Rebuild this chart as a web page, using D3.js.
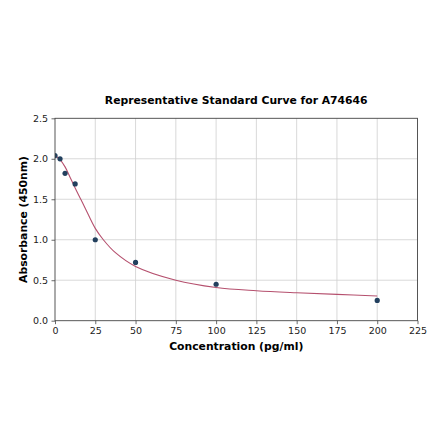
<!DOCTYPE html>
<html><head><meta charset="utf-8">
<script src="https://cdn.jsdelivr.net/npm/d3@7"></script>
<style>body{margin:0;background:#fff;} svg{display:block;font-family:"DejaVu Sans",sans-serif;}</style>
</head><body>
<script>
const title = "Representative Standard Curve for A74646";
const xLabel = "Concentration (pg/ml)";
const yLabel = "Absorbance (450nm)";
const concentrations = [0, 3.125, 6.25, 12.5, 25, 50, 100, 200];
const absorbances = [2.04, 2.00, 1.82, 1.69, 1.00, 0.72, 0.45, 0.25];
const fitX = [0, 3.125, 6.25, 9.4, 12.5, 16, 18.75, 25, 30, 37.5, 50, 75, 100, 125, 150, 175, 200];
const fitY = [2.04, 1.99, 1.90, 1.77, 1.64, 1.50, 1.39, 1.14, 1.00, 0.84, 0.67, 0.50, 0.41, 0.37, 0.345, 0.325, 0.305];
const xTicks = [0, 25, 50, 75, 100, 125, 150, 175, 200, 225];
const yTicks = [0.0, 0.5, 1.0, 1.5, 2.0, 2.5];

const W = 440, H = 441;
const m = {left: 55, right: 22.5, top: 118.3, bottom: 120.3};
const svg = d3.select("body").append("svg").attr("width", W).attr("height", H);
const x = d3.scaleLinear().domain([0, 225]).range([m.left, W - m.right]);
const y = d3.scaleLinear().domain([0, 2.5]).range([H - m.bottom, m.top]);

// grid
svg.append("g").selectAll("line").data(xTicks.slice(1, -1)).join("line")
  .attr("x1", d => x(d)).attr("x2", d => x(d)).attr("y1", y(0)).attr("y2", y(2.5))
  .attr("stroke", "#cfcfcf").attr("stroke-width", 0.8);
svg.append("g").selectAll("line").data(yTicks.slice(1, -1)).join("line")
  .attr("x1", x(0)).attr("x2", x(225)).attr("y1", d => y(d)).attr("y2", d => y(d))
  .attr("stroke", "#cfcfcf").attr("stroke-width", 0.8);

svg.append("defs").append("clipPath").attr("id", "clip").append("rect")
  .attr("x", x(0)).attr("y", y(2.5)).attr("width", x(225) - x(0)).attr("height", y(0) - y(2.5));

const plot = svg.append("g").attr("clip-path", "url(#clip)");
const fit = fitX.map((d, i) => [d, fitY[i]]);
plot.append("path").datum(fit)
  .attr("d", d3.line().x(d => x(d[0])).y(d => y(d[1])).curve(d3.curveCatmullRom.alpha(0.5)))
  .attr("fill", "none").attr("stroke", "#b5506e").attr("stroke-width", 1.1);
plot.selectAll("circle").data(concentrations).join("circle")
  .attr("cx", d => x(d)).attr("cy", (d, i) => y(absorbances[i])).attr("r", 2.6)
  .attr("fill", "#22405e");

// axes
const xAxis = svg.append("g").attr("transform", `translate(0,${y(0)})`)
  .call(d3.axisBottom(x).tickValues(xTicks).tickFormat(d3.format("d")).tickSizeOuter(0).tickSize(3.5).tickPadding(3));
const yAxis = svg.append("g").attr("transform", `translate(${x(0)},0)`)
  .call(d3.axisLeft(y).tickValues(yTicks).tickFormat(d3.format(".1f")).tickSizeOuter(0).tickSize(3.5).tickPadding(3.5));
[xAxis, yAxis].forEach(a => {
  a.select(".domain").remove();
  a.selectAll("text").attr("font-size", 9.5).attr("fill", "#222").attr("font-family", "DejaVu Sans");
  a.selectAll("line").attr("stroke", "#444").attr("stroke-width", 0.8);
});
svg.append("rect").attr("x", x(0)).attr("y", y(2.5)).attr("width", x(225) - x(0)).attr("height", y(0) - y(2.5))
  .attr("fill", "none").attr("stroke", "#444").attr("stroke-width", 0.9);

svg.append("text").attr("x", (x(0) + x(225)) / 2).attr("y", 103.7).attr("text-anchor", "middle")
  .attr("font-size", 10.8).attr("font-weight", "bold").attr("fill", "#000").text(title);
svg.append("text").attr("x", (x(0) + x(225)) / 2).attr("y", 349.7).attr("text-anchor", "middle")
  .attr("font-size", 10.8).attr("font-weight", "bold").attr("fill", "#000").text(xLabel);
svg.append("text").attr("transform", `translate(26.5,${(y(0) + y(2.5)) / 2}) rotate(-90)`).attr("text-anchor", "middle")
  .attr("font-size", 10.8).attr("font-weight", "bold").attr("fill", "#000").text(yLabel);
</script>
</body></html>
